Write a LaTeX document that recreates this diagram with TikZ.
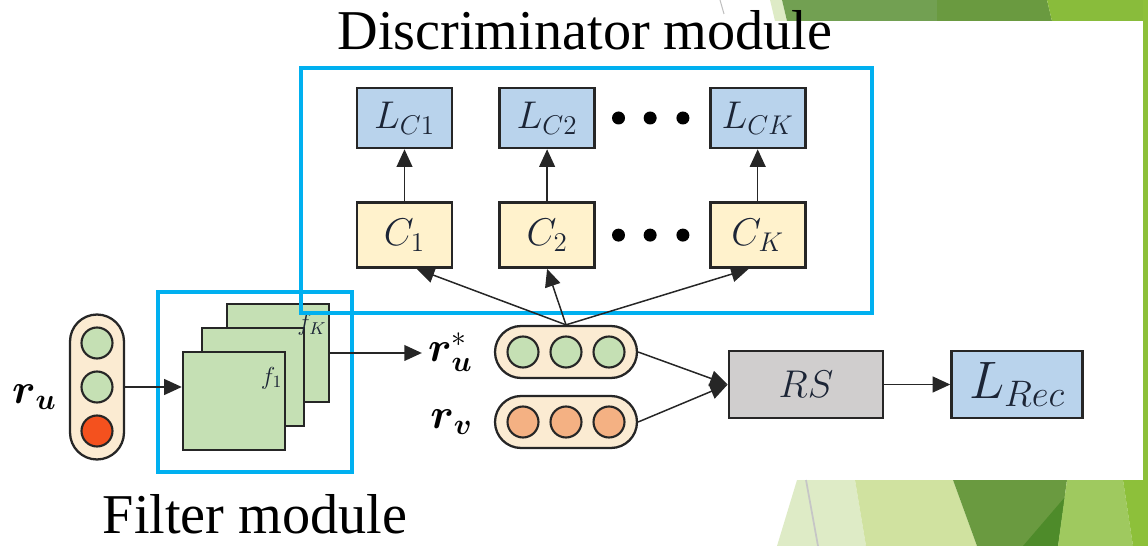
\RequirePackage{fix-cm}
\documentclass[tikz,border=0pt]{standalone}
\usepackage{amsmath}
\usepackage{fontspec}
\setmainfont{Liberation Serif}
\usetikzlibrary{arrows.meta, positioning, calc}
\definecolor{frameblue}{HTML}{00B0F0}
\definecolor{lossblue}{HTML}{B9D3EC}
\definecolor{clsyellow}{HTML}{FFF2CC}
\definecolor{filtgreen}{HTML}{C5E0B4}
\definecolor{rsgray}{HTML}{D0CECE}
\definecolor{pillcream}{HTML}{FBEBD2}
\definecolor{unitgreen}{HTML}{C5E0B4}
\definecolor{unitred}{HTML}{F4511E}
\definecolor{unitorange}{HTML}{F4B183}
\definecolor{edgedark}{HTML}{262626}
\definecolor{inkblue}{HTML}{1C2536}
\definecolor{bgpale}{HTML}{DEEBC6}
\definecolor{bglight}{HTML}{D0E2A0}
\definecolor{bgmid}{HTML}{72A052}
\definecolor{bgdark}{HTML}{6A9A40}
\definecolor{bgdeep}{HTML}{4E8B2A}
\definecolor{bgfresh}{HTML}{9FC95F}
\definecolor{bglime}{HTML}{8DC03A}

\begin{document}
\begin{tikzpicture}[
    x=0.02cm, y=-0.02cm,
    box/.style={draw=edgedark, line width=1.5pt, minimum width=1.9cm, minimum height=1.2cm, inner sep=0pt, text=inkblue, font=\fontsize{22}{26}\selectfont},
    lossbox/.style={box, fill=lossblue},
    clsbox/.style={box, fill=clsyellow, minimum height=1.3cm},
    filt/.style={draw=edgedark, line width=1.4pt, fill=filtgreen, minimum width=2.04cm, minimum height=1.96cm},
    flab/.style={inner sep=0pt, text=inkblue, font=\fontsize{14}{17}\selectfont},
    pill/.style={draw=edgedark, line width=1.3pt, fill=pillcream},
    unit/.style={circle, draw=edgedark, line width=1.2pt, minimum size=0.62cm, inner sep=0pt},
    vlab/.style={font=\fontsize{24}{28}\selectfont},
    dot/.style={circle, fill=black, minimum size=0.26cm, inner sep=0pt},
    module/.style={draw=frameblue, line width=1.8pt},
    title/.style={inner sep=0pt, font=\fontsize{32}{38}\selectfont},
    arrow/.style={-{Triangle[length=10pt, width=9pt]}, line width=0.85pt, edgedark}
]
\useasboundingbox (0,0) rectangle (1148,546);

% slide background
\fill[bgpale] (770,0) -- (782,0) -- (787,21) -- (775,21) -- cycle;
\fill[bgmid] (782,0) -- (937,0) -- (937,21) -- (787,21) -- cycle;
\fill[bgdark] (937,0) -- (1047,0) -- (1052,21) -- (937,21) -- cycle;
\fill[bglime!90!bgdark] (1047,0) -- (1148,0) -- (1148,21) -- (1052,21) -- cycle;
\draw[gray!50, line width=0.6pt] (720,0) -- (724,14);
\fill[bgpale] (797,480) -- (855,480) -- (866,546) -- (777,546) -- cycle;
\draw[gray!45, line width=1pt] (806,480) -- (818,546);
\fill[bglight] (855,480) -- (953,480) -- (977,546) -- (866,546) -- cycle;
\fill[bgdark] (953,480) -- (1067,480) -- (1058,546) -- (977,546) -- cycle;
\fill[bgdeep] (1023,546) -- (1065,497) -- (1058,546) -- cycle;
\fill[bgfresh] (1067,480) -- (1123,480) -- (1133,546) -- (1058,546) -- cycle;
\fill[bglime] (1123,480) -- (1148,480) -- (1148,546) -- (1133,546) -- cycle;
\fill[bglime] (1143,0) rectangle (1148,546);

% Nodes
\node[lossbox] (lc1) at (404.5,118) {$L_{C1}$};
\node[lossbox, right=0.9cm of lc1] (lc2) {$L_{C2}$};
\node[lossbox, right=2.26cm of lc2] (lck) {$L_{CK}$};
\node[clsbox, below=1.04cm of lc1] (c1) {$C_1$};
\node[clsbox, below=1.04cm of lc2] (c2) {$C_2$};
\node[clsbox, below=1.04cm of lck] (ck) {$C_K$};
\foreach \i/\t in {1/0.2, 2/0.48, 3/0.77} {
  \node[dot] (dl\i) at ($(lc2.east)!\t!(lck.west)$) {};
  \node[dot] (dc\i) at ($(c2.east)!\t!(ck.west)$) {};
}

\node[filt] (fk) at (278,353) {};
\node[filt] (fm) at (253,377) {};
\node[filt] (f1) at (234,401) {};
\node[flab, anchor=north east] (fklab) at ([xshift=-2pt, yshift=-6pt]fk.north east) {$f_K$};
\node[flab, anchor=north east] (f1lab) at ([xshift=-2pt, yshift=-9pt]f1.north east) {$f_1$};

\node[pill, minimum width=1.08cm, minimum height=2.9cm, rounded corners=0.54cm] (rupill) at (97,387) {};
\node[unit, fill=unitgreen] (ru1) at (97,343) {};
\node[unit, fill=unitgreen] (ru2) at (97,387) {};
\node[unit, fill=unitred] (ru3) at (97,431) {};
\node[vlab, left=0.12cm of rupill, yshift=-0.2cm] (rulab) {$\boldsymbol{r}_{\boldsymbol{u}}$};

\node[pill, minimum width=2.84cm, minimum height=1.04cm, rounded corners=0.52cm] (ruspill) at (566,352) {};
\node[pill, minimum width=2.84cm, minimum height=1.04cm, rounded corners=0.52cm] (rvpill) at (566,422) {};
\foreach \i/\dx in {1/-43, 2/0, 3/43} {
  \node[unit, fill=unitgreen] (rus\i) at ($(ruspill)+(\dx,0)$) {};
  \node[unit, fill=unitorange] (rv\i) at ($(rvpill)+(\dx,0)$) {};
}
\node[vlab, left=0.3cm of ruspill] (ruslab) {$\boldsymbol{r}^{*}_{\boldsymbol{u}}$};
\node[vlab, left=0.3cm of rvpill] (rvlab) {$\boldsymbol{r}_{\boldsymbol{v}}$};

\node[box, fill=rsgray, minimum width=3.08cm, minimum height=1.34cm] (rs) at (806,384.5) {$RS$};
\node[lossbox, minimum width=2.62cm, minimum height=1.34cm, right=1.32cm of rs, font=\fontsize{30}{34}\selectfont] (lrec) {$L_{Rec}$};

\draw[module] (301,68) rectangle (872,313);
\draw[module] (158,292) rectangle (352,472);
\node[title] (disctitle) at (585,30) {Discriminator module};
\node[title] (filttitle) at (255,514) {Filter module};

% Connections
\draw[arrow] (rupill.east) -- (rupill.east -| f1.west);
\draw[arrow] (fk.east) -- (fk.east -| ruslab.west);
\draw[arrow] (c1) -- (lc1);
\draw[arrow] (c2) -- (lc2);
\draw[arrow] (ck) -- (lck);
\draw[arrow] (ruspill.north) -- (c1.290);
\draw[arrow] (ruspill.north) -- (c2.south);
\draw[arrow] (ruspill.north) -- (ck.255);
\draw[arrow] (ruspill.east) -- (rs.west);
\draw[arrow] (rvpill.east) -- (rs.west);
\draw[arrow] (rs) -- (lrec);

\end{tikzpicture}
\end{document}
